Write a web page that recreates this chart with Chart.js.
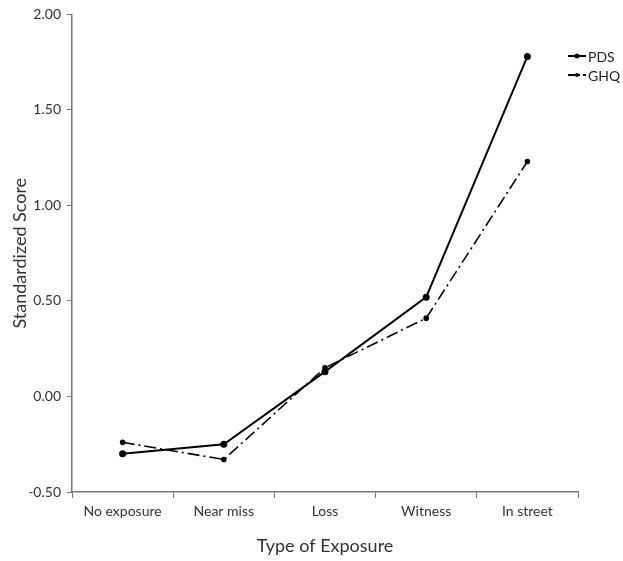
<!DOCTYPE html>
<html>
<head>
<meta charset="utf-8">
<script src="https://cdn.jsdelivr.net/npm/chart.js@4/dist/chart.umd.min.js"></script>
<style>
  html, body { margin: 0; padding: 0; background: #fff; }
  #wrap { width: 623px; height: 561px; }
</style>
</head>
<body>
<div id="wrap"><canvas id="exposureChart"></canvas></div>
<script>
// values
const exposureTypes = ['No exposure', 'Near miss', 'Loss', 'Witness', 'In street'];
const pdsScores = [-0.30, -0.25, 0.13, 0.52, 1.78];
const ghqScores = [-0.24, -0.33, 0.15, 0.41, 1.23];
const yTicks = [-0.5, 0, 0.5, 1.0, 1.5, 2.0];

const fontFamily = 'Lato, "Open Sans", sans-serif';

// small legend drawn in the top right corner, like the original figure
const cornerLegend = {
    id: 'cornerLegend',
    afterDraw(chart) {
        const ctx = chart.ctx;
        ctx.save();
        chart.data.datasets.forEach(function (ds, i) {
            const y = 56 + i * 19;
            const x = 568;
            ctx.strokeStyle = '#000';
            ctx.lineWidth = 2;
            ctx.setLineDash(i === 0 ? [] : [7, 3, 2, 3]);
            ctx.beginPath();
            ctx.moveTo(x, y);
            ctx.lineTo(x + 18, y);
            ctx.stroke();
            ctx.setLineDash([]);
            ctx.fillStyle = '#000';
            ctx.beginPath();
            ctx.arc(x + 9, y, i === 0 ? 2.5 : 2, 0, Math.PI * 2);
            ctx.fill();
            ctx.font = '14px ' + fontFamily;
            ctx.fillStyle = '#222';
            ctx.textBaseline = 'middle';
            ctx.fillText(ds.label, x + 20, y + 1);
        });
        ctx.restore();
    }
};

const ctx = document.getElementById('exposureChart');
new Chart(ctx, {
    type: 'line',
    data: {
        labels: exposureTypes,
        datasets: [
            {
                label: 'PDS',
                data: pdsScores,
                borderColor: '#000',
                backgroundColor: '#000',
                borderWidth: 2,
                pointRadius: 2.5,
                tension: 0
            },
            {
                label: 'GHQ',
                data: ghqScores,
                borderColor: '#000',
                backgroundColor: '#000',
                borderWidth: 1.6,
                borderDash: [12, 4, 2, 4],
                pointRadius: 2,
                tension: 0
            }
        ]
    },
    plugins: [cornerLegend],
    options: {
        responsive: true,
        maintainAspectRatio: false,
        animation: false,
        layout: { padding: { top: 14, right: 45, left: 0, bottom: 0 } },
        plugins: {
            legend: { display: false },
            tooltip: { enabled: false }
        },
        scales: {
            x: {
                offset: true,
                afterFit(scale) { scale.height = 69; },
                grid: {
                    offset: true,
                    drawOnChartArea: false,
                    drawTicks: true,
                    tickLength: 6,
                    color: '#777'
                },
                border: { color: '#777', width: 1.5 },
                ticks: {
                    color: '#333',
                    padding: 5,
                    font: { family: fontFamily, size: 14 }
                },
                title: {
                    display: true,
                    text: 'Type of Exposure',
                    color: '#333',
                    padding: { top: 10 },
                    font: { family: fontFamily, size: 18 }
                }
            },
            y: {
                min: -0.5,
                max: 2.0,
                afterFit(scale) { scale.width = 72; },
                afterBuildTicks(scale) {
                    scale.ticks = yTicks.map(function (v) { return { value: v }; });
                },
                grid: {
                    drawOnChartArea: false,
                    drawTicks: true,
                    tickLength: 5,
                    color: '#777'
                },
                border: { color: '#777', width: 1.5 },
                ticks: {
                    color: '#333',
                    padding: 6,
                    font: { family: fontFamily, size: 14 },
                    callback: function (v) { return v.toFixed(2); }
                },
                title: {
                    display: true,
                    text: 'Standardized Score',
                    color: '#333',
                    padding: { top: 9, bottom: 4 },
                    font: { family: fontFamily, size: 18 }
                }
            }
        }
    }
});
</script>
</body>
</html>
